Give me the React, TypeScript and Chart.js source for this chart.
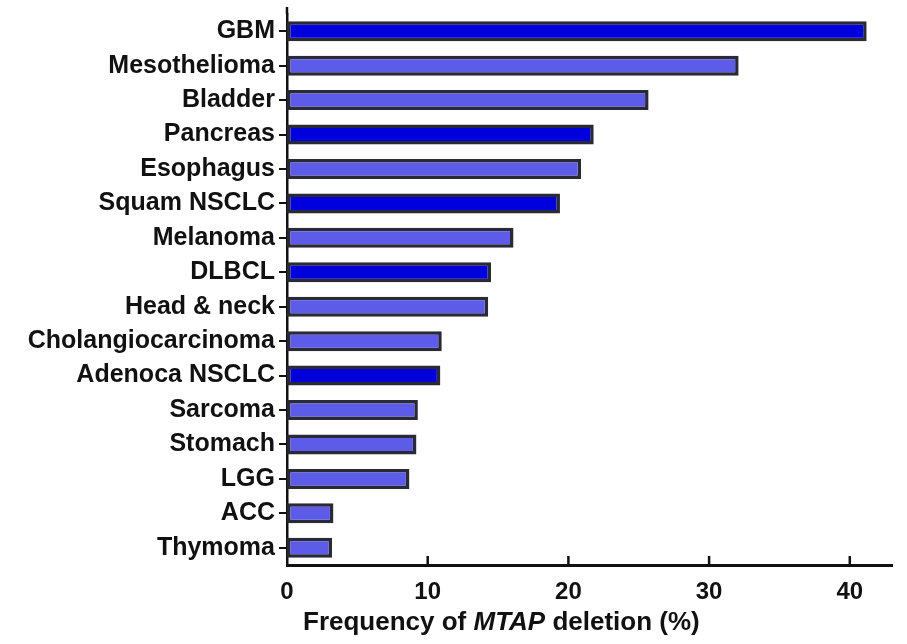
import React, { useEffect, useRef } from "react";
import { Chart, registerables } from "chart.js";

Chart.register(...registerables);

const categories = [
  "GBM",
  "Mesothelioma",
  "Bladder",
  "Pancreas",
  "Esophagus",
  "Squam NSCLC",
  "Melanoma",
  "DLBCL",
  "Head & neck",
  "Cholangiocarcinoma",
  "Adenoca NSCLC",
  "Sarcoma",
  "Stomach",
  "LGG",
  "ACC",
  "Thymoma",
];

const frequencies = [41.2, 32.1, 25.7, 21.8, 20.9, 19.4, 16.1, 14.5, 14.3, 11.0, 10.9, 9.3, 9.2, 8.7, 3.3, 3.2];

const darkGroup = ["GBM", "Pancreas", "Squam NSCLC", "DLBCL", "Adenoca NSCLC"];

const xTickValues = [0, 10, 20, 30, 40];
const xMin = 0;
const xMax = 43;

const titleParts = [
  { text: "Frequency of ", italic: false },
  { text: "MTAP", italic: true },
  { text: " deletion (%)", italic: false },
];

const DARK_BLUE = "#0000dc";
const LIGHT_BLUE = "#5c5ce8";
const EDGE = "#2a2a36";
const INK = "#111111";
const FONT = '"Liberation Sans", Arial, sans-serif';

const decorPlugin = {
  id: "decor",
  afterDraw(chart: any) {
    const { ctx, chartArea } = chart;
    const x = chart.scales.x;
    ctx.save();
    // inward tick marks on the x axis
    ctx.strokeStyle = INK;
    ctx.lineWidth = 2.5;
    x.ticks.forEach((t: any) => {
      if (t.value === xMin) return;
      const px = x.getPixelForValue(t.value);
      ctx.beginPath();
      ctx.moveTo(px, chartArea.bottom);
      ctx.lineTo(px, chartArea.bottom - 9);
      ctx.stroke();
    });
    // y axis line continues slightly above the plot
    ctx.beginPath();
    ctx.moveTo(chartArea.left, chartArea.top);
    ctx.lineTo(chartArea.left, chartArea.top - 7);
    ctx.stroke();

    // axis title with italic gene name
    const size = 26;
    const fonts = titleParts.map(
      (p) => `${p.italic ? "italic " : ""}bold ${size}px ${FONT}`
    );
    const widths = titleParts.map((p, i) => {
      ctx.font = fonts[i];
      return ctx.measureText(p.text).width;
    });
    let cx = chartArea.left + 16;
    const baseline = chartArea.bottom + 65;
    ctx.fillStyle = INK;
    ctx.textBaseline = "alphabetic";
    ctx.textAlign = "left";
    titleParts.forEach((p, i) => {
      ctx.font = fonts[i];
      ctx.fillText(p.text, cx, baseline);
      cx += widths[i];
    });
    ctx.restore();
  },
};

export default function App() {
  const canvasRef = useRef<HTMLCanvasElement | null>(null);

  useEffect(() => {
    if (!canvasRef.current) return;
    const colors = categories.map((c) => (darkGroup.includes(c) ? DARK_BLUE : LIGHT_BLUE));
    const chart = new Chart(canvasRef.current, {
      type: "bar",
      data: {
        labels: categories,
        datasets: [
          {
            data: frequencies,
            backgroundColor: colors,
            borderColor: EDGE,
            borderWidth: 3.5,
            borderSkipped: false,
            categoryPercentage: 1,
            barPercentage: 0.58,
          },
        ],
      },
      options: {
        indexAxis: "y",
        animation: false,
        responsive: false,
        maintainAspectRatio: false,
        layout: { padding: { top: 14, right: 15, left: 0, bottom: 0 } },
        plugins: {
          legend: { display: false },
          tooltip: { enabled: false },
          title: { display: false },
        },
        scales: {
          x: {
            type: "linear",
            min: xMin,
            max: xMax,
            afterBuildTicks: (s: any) => {
              s.ticks = xTickValues.map((v) => ({ value: v }));
            },
            afterFit: (s: any) => {
              s.height = 79;
            },
            grid: { display: false, drawTicks: false },
            border: { display: true, color: INK, width: 3 },
            ticks: {
              padding: 13,
              color: INK,
              font: { family: FONT, size: 24, weight: "bold" },
            },
          },
          y: {
            type: "category",
            offset: true,
            afterFit: (s: any) => {
              s.width = 287;
              s.paddingTop = 0;
              s.paddingBottom = 0;
            },
            grid: {
              display: true,
              offset: false,
              drawOnChartArea: false,
              drawTicks: true,
              tickLength: 8,
              color: INK,
              lineWidth: 2,
            },
            border: { display: true, color: INK, width: 2.5 },
            ticks: {
              autoSkip: false,
              padding: 4,
              color: INK,
              font: { family: FONT, size: 25, weight: "bold" },
            },
          },
        },
      },
      plugins: [decorPlugin],
    });
    return () => chart.destroy();
  }, []);

  return (
    <div style={{ position: "absolute", left: 0, top: 0, width: 907, height: 644, background: "#ffffff" }}>
      <canvas ref={canvasRef} width={907} height={644} style={{ display: "block" }} />
    </div>
  );
}
